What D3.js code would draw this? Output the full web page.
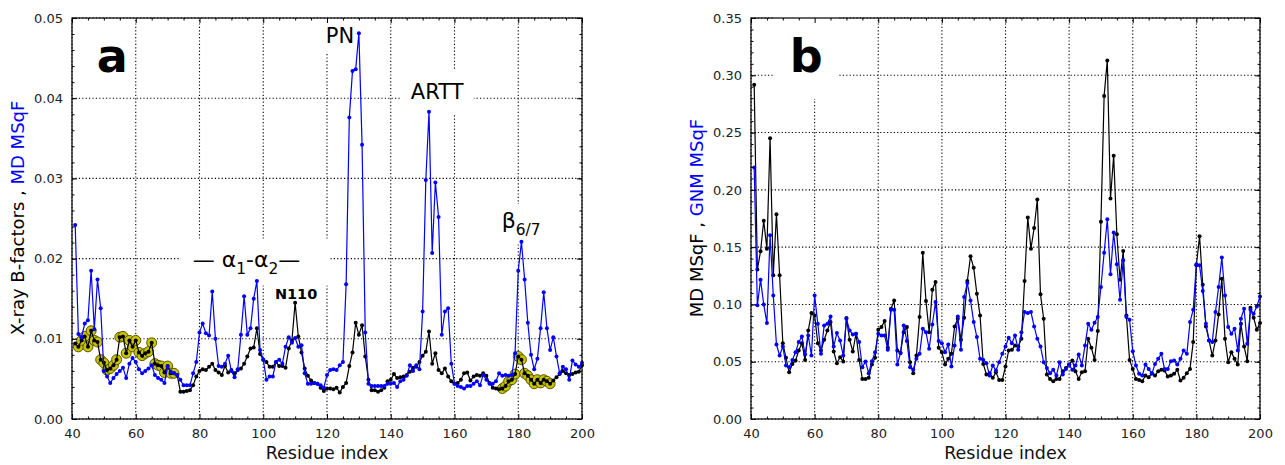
<!DOCTYPE html>
<html>
<head>
<meta charset="utf-8">
<script src="https://d3js.org/d3.v7.min.js"></script>
<style>
  body { margin: 0; background: #fff; }
  text { font-family: "DejaVu Sans", sans-serif; }
</style>
</head>
<body>
<div id="chart"></div>
<script>
// residues 41..200
var firstResidue = 41;

// panel a, black: X-ray B-factors (scaled)
var xrayBfactors = [
  0.0094, 0.0090, 0.0098, 0.0103, 0.0090, 0.0110, 0.0098, 0.0096, 0.0074, 0.0070,
  0.0061, 0.0063, 0.0067, 0.0074, 0.0102, 0.0103, 0.0082, 0.0098, 0.0090, 0.0098,
  0.0083, 0.0079, 0.0082, 0.0084, 0.0095, 0.0069, 0.0067, 0.0066, 0.0058, 0.0066,
  0.0057, 0.0057, 0.0055, 0.0034, 0.0034, 0.0035, 0.0036, 0.0042, 0.0053, 0.0060,
  0.0062, 0.0061, 0.0065, 0.0069, 0.0061, 0.0058, 0.0055, 0.0066, 0.0058, 0.0061,
  0.0057, 0.0061, 0.0063, 0.0069, 0.0078, 0.0088, 0.0089, 0.0113, 0.0081, 0.0074,
  0.0071, 0.0065, 0.0065, 0.0071, 0.0066, 0.0066, 0.0064, 0.0088, 0.0098, 0.0145,
  0.0103, 0.0083, 0.0063, 0.0054, 0.0048, 0.0045, 0.0044, 0.0039, 0.0035, 0.0038,
  0.0038, 0.0037, 0.0039, 0.0033, 0.0040, 0.0045, 0.0066, 0.0083, 0.0120, 0.0105,
  0.0117, 0.0078, 0.0049, 0.0036, 0.0036, 0.0034, 0.0036, 0.0039, 0.0047, 0.0049,
  0.0056, 0.0051, 0.0052, 0.0053, 0.0055, 0.0059, 0.0064, 0.0065, 0.0071, 0.0079,
  0.0084, 0.0109, 0.0069, 0.0082, 0.0061, 0.0057, 0.0063, 0.0053, 0.0047, 0.0044,
  0.0045, 0.0049, 0.0057, 0.0058, 0.0048, 0.0053, 0.0055, 0.0054, 0.0057, 0.0054,
  0.0045, 0.0039, 0.0038, 0.0037, 0.0038, 0.0041, 0.0047, 0.0049, 0.0056, 0.0078,
  0.0074, 0.0057, 0.0054, 0.0049, 0.0044, 0.0049, 0.0045, 0.0049, 0.0047, 0.0044,
  0.0048, 0.0052, 0.0056, 0.0060, 0.0057, 0.0055, 0.0056, 0.0058, 0.0059, 0.0067
];

// panel a, blue: MD MSqF
var mdMsqfA = [
  0.0242, 0.0106, 0.0102, 0.0119, 0.0123, 0.0185, 0.0112, 0.0174, 0.0138, 0.0060,
  0.0053, 0.0045, 0.0051, 0.0056, 0.0060, 0.0064, 0.0051, 0.0069, 0.0076, 0.0071,
  0.0062, 0.0057, 0.0060, 0.0063, 0.0067, 0.0055, 0.0051, 0.0049, 0.0045, 0.0065,
  0.0059, 0.0057, 0.0055, 0.0049, 0.0042, 0.0042, 0.0042, 0.0057, 0.0071, 0.0108,
  0.0119, 0.0107, 0.0104, 0.0159, 0.0100, 0.0066, 0.0065, 0.0069, 0.0079, 0.0060,
  0.0052, 0.0062, 0.0105, 0.0153, 0.0105, 0.0113, 0.0150, 0.0172, 0.0086, 0.0074,
  0.0049, 0.0053, 0.0053, 0.0071, 0.0074, 0.0069, 0.0090, 0.0102, 0.0095, 0.0101,
  0.0090, 0.0092, 0.0057, 0.0044, 0.0044, 0.0045, 0.0044, 0.0042, 0.0039, 0.0055,
  0.0061, 0.0062, 0.0061, 0.0067, 0.0071, 0.0168, 0.0376, 0.0434, 0.0436, 0.0481,
  0.0342, 0.0108, 0.0044, 0.0041, 0.0041, 0.0041, 0.0041, 0.0041, 0.0044, 0.0044,
  0.0045, 0.0040, 0.0047, 0.0049, 0.0054, 0.0067, 0.0060, 0.0067, 0.0062, 0.0134,
  0.0298, 0.0383, 0.0207, 0.0295, 0.0252, 0.0105, 0.0134, 0.0138, 0.0069, 0.0044,
  0.0041, 0.0040, 0.0038, 0.0041, 0.0041, 0.0044, 0.0047, 0.0042, 0.0055, 0.0049,
  0.0044, 0.0044, 0.0047, 0.0057, 0.0054, 0.0055, 0.0054, 0.0055, 0.0082, 0.0185,
  0.0221, 0.0174, 0.0120, 0.0080, 0.0062, 0.0075, 0.0113, 0.0158, 0.0113, 0.0086,
  0.0102, 0.0078, 0.0057, 0.0065, 0.0062, 0.0049, 0.0073, 0.0068, 0.0065, 0.0070
];

// panel b, black: MD MSqF
var mdMsqfB = [
  0.2917, 0.1304, 0.1464, 0.1730, 0.1487, 0.2450, 0.1254, 0.1788, 0.1254, 0.0662,
  0.0534, 0.0408, 0.0481, 0.0510, 0.0598, 0.0662, 0.0516, 0.0773, 0.0925, 0.0904,
  0.0662, 0.0598, 0.0691, 0.0773, 0.0846, 0.0589, 0.0487, 0.0540, 0.0502, 0.0881,
  0.0691, 0.0589, 0.0744, 0.0516, 0.0350, 0.0350, 0.0359, 0.0475, 0.0534, 0.0779,
  0.0802, 0.0855, 0.0621, 0.0962, 0.1035, 0.0598, 0.0575, 0.0758, 0.0802, 0.0496,
  0.0400, 0.0554, 0.0890, 0.1450, 0.1030, 0.0758, 0.1129, 0.1196, 0.0621, 0.0583,
  0.0475, 0.0525, 0.0569, 0.0808, 0.0875, 0.0691, 0.0884, 0.1205, 0.1420, 0.1321,
  0.1094, 0.0904, 0.0481, 0.0388, 0.0400, 0.0359, 0.0408, 0.0341, 0.0341, 0.0458,
  0.0598, 0.0604, 0.0642, 0.0633, 0.0700, 0.1205, 0.1759, 0.1487, 0.1667, 0.1916,
  0.1088, 0.0875, 0.0388, 0.0350, 0.0330, 0.0350, 0.0350, 0.0417, 0.0446, 0.0475,
  0.0510, 0.0417, 0.0350, 0.0408, 0.0417, 0.0700, 0.0621, 0.0516, 0.0767, 0.1721,
  0.2820, 0.3130, 0.1925, 0.2298, 0.1613, 0.1216, 0.1467, 0.0904, 0.0516, 0.0437,
  0.0350, 0.0341, 0.0330, 0.0379, 0.0365, 0.0400, 0.0379, 0.0417, 0.0429, 0.0423,
  0.0370, 0.0379, 0.0394, 0.0429, 0.0335, 0.0359, 0.0400, 0.0437, 0.0671, 0.1342,
  0.1595, 0.1172, 0.0808, 0.0685, 0.0554, 0.0685, 0.0913, 0.1225, 0.0700, 0.0496,
  0.0583, 0.0525, 0.0475, 0.0831, 0.0633, 0.0505, 0.0971, 0.0884, 0.0779, 0.0837
];

// panel b, blue: GNM MSqF
var gnmMsqf = [
  0.2196, 0.0992, 0.1216, 0.1000, 0.0837, 0.1604, 0.1079, 0.0650, 0.0554, 0.0633,
  0.0467, 0.0452, 0.0516, 0.0583, 0.0671, 0.0720, 0.0563, 0.0729, 0.0554, 0.1079,
  0.0831, 0.0569, 0.0817, 0.0831, 0.0895, 0.0633, 0.0750, 0.0685, 0.0554, 0.0875,
  0.0773, 0.0738, 0.0744, 0.0671, 0.0452, 0.0502, 0.0400, 0.0505, 0.0583, 0.0744,
  0.0729, 0.0729, 0.0604, 0.0953, 0.0953, 0.0475, 0.0575, 0.0817, 0.0680, 0.0452,
  0.0429, 0.0525, 0.0569, 0.0787, 0.0758, 0.0613, 0.0825, 0.1021, 0.0680, 0.0662,
  0.0583, 0.0650, 0.0458, 0.0642, 0.0895, 0.0604, 0.1065, 0.1187, 0.1035, 0.0846,
  0.0715, 0.0525, 0.0516, 0.0487, 0.0379, 0.0467, 0.0423, 0.0496, 0.0569, 0.0633,
  0.0709, 0.0662, 0.0729, 0.0604, 0.0758, 0.0933, 0.0925, 0.0933, 0.0808, 0.0700,
  0.0633, 0.0496, 0.0446, 0.0400, 0.0429, 0.0379, 0.0496, 0.0388, 0.0437, 0.0475,
  0.0429, 0.0467, 0.0563, 0.0467, 0.0642, 0.0831, 0.0779, 0.0840, 0.0890, 0.1152,
  0.1450, 0.1744, 0.1263, 0.1627, 0.1350, 0.1041, 0.1385, 0.0890, 0.0866, 0.0592,
  0.0467, 0.0394, 0.0379, 0.0475, 0.0437, 0.0394, 0.0481, 0.0525, 0.0569, 0.0437,
  0.0437, 0.0505, 0.0510, 0.0475, 0.0525, 0.0598, 0.0569, 0.0846, 0.0954, 0.1350,
  0.1342, 0.1117, 0.0831, 0.0685, 0.0671, 0.0933, 0.1152, 0.1409, 0.1079, 0.0802,
  0.0744, 0.0788, 0.0598, 0.0875, 0.0962, 0.0656, 0.0954, 0.0919, 0.0983, 0.1070
];

// residue ranges marked with yellow circles in panel a
var highlightRanges = [[42, 72], [175, 190]];

var xTicks = [40, 60, 80, 100, 120, 140, 160, 180, 200];
var yTicksA = [0, 0.01, 0.02, 0.03, 0.04, 0.05];
var yTicksB = [0, 0.05, 0.10, 0.15, 0.20, 0.25, 0.30, 0.35];

var BLUE = "#0000ff";

var svg = d3.select("#chart").append("svg")
    .attr("width", 1285)
    .attr("height", 465);

function toPoints(values) {
    return values.map(function(v, i) { return { r: firstResidue + i, v: v }; });
}

function inRanges(r, ranges) {
    for (var i = 0; i < ranges.length; i++) {
        if (r >= ranges[i][0] && r <= ranges[i][1]) return true;
    }
    return false;
}

// text made of pieces, some of them subscripts
function richText(layer, x, y, parts, size, weight) {
    var t = layer.append("text")
        .attr("x", x).attr("y", y)
        .attr("font-family", "'Open Sans', sans-serif")
        .attr("font-size", size)
        .attr("font-weight", weight || "normal")
        .attr("fill", "#000");
    var shift = 0;
    parts.forEach(function(p) {
        var want = p.sub ? Math.round(size * 0.32) : 0;
        t.append("tspan")
            .attr("dy", want - shift)
            .attr("font-size", p.sub ? size * 0.7 : size)
            .text(p.t);
        shift = want;
    });
    return t;
}

function drawPanel(p) {
    var x = d3.scaleLinear().domain([40, 200]).range([p.left, p.right]);
    var y = d3.scaleLinear().domain([0, p.ymax]).range([419, 18]);
    var g = svg.append("g");

    // dotted grid
    var grid = g.append("g")
        .attr("stroke", "#000")
        .attr("stroke-width", 1.1)
        .attr("stroke-dasharray", "1.2,2.2");
    grid.selectAll(".vg").data(xTicks).enter().append("line")
        .attr("x1", function(d) { return x(d); })
        .attr("x2", function(d) { return x(d); })
        .attr("y1", y(0)).attr("y2", y(p.ymax));
    grid.selectAll(".hg").data(p.yTicks).enter().append("line")
        .attr("x1", x(40)).attr("x2", x(200))
        .attr("y1", function(d) { return y(d); })
        .attr("y2", function(d) { return y(d); });

    var boxLayer = g.append("g");
    var dataLayer = g.append("g");
    var textLayer = g.append("g");

    var line = d3.line()
        .x(function(d) { return x(d.r); })
        .y(function(d) { return y(d.v); });

    p.series.forEach(function(s) {
        var pts = toPoints(s.values);
        if (s.highlight) {
            dataLayer.selectAll(null)
                .data(pts.filter(function(d) { return inRanges(d.r, s.highlight); }))
                .enter().append("circle")
                .attr("cx", function(d) { return x(d.r); })
                .attr("cy", function(d) { return y(d.v); })
                .attr("r", 5)
                .attr("fill", "#c9c400")
                .attr("stroke", "#5a5600")
                .attr("stroke-width", 1);
        }
        dataLayer.append("path")
            .datum(pts)
            .attr("fill", "none")
            .attr("stroke", s.color)
            .attr("stroke-width", 1.2)
            .attr("d", line);
        dataLayer.selectAll(null).data(pts).enter().append("circle")
            .attr("cx", function(d) { return x(d.r); })
            .attr("cy", function(d) { return y(d.v); })
            .attr("r", 2)
            .attr("fill", s.color);
    });

    // labels with a white box that hides the grid
    p.labels.forEach(function(l) {
        var t = richText(textLayer, x(l.r), y(l.v), l.parts, l.size, l.weight);
        if (l.anchor) t.attr("text-anchor", l.anchor);
        var b = t.node().getBBox();
        var px = l.pad[0], py = l.pad[1];
        boxLayer.append("rect")
            .attr("x", b.x - px).attr("y", b.y - py)
            .attr("width", b.width + 2 * px + (l.extraRight || 0))
            .attr("height", b.height + 2 * py)
            .attr("fill", "#fff");
    });

    // frame and inward ticks
    g.append("rect")
        .attr("x", x(40)).attr("y", y(p.ymax))
        .attr("width", x(200) - x(40)).attr("height", y(0) - y(p.ymax))
        .attr("fill", "none").attr("stroke", "#000").attr("stroke-width", 1.2);

    var fmt = d3.format(".2f");
    var bottom = g.append("g").attr("transform", "translate(0," + y(0) + ")")
        .call(d3.axisBottom(x).tickValues(xTicks).tickSize(-5).tickPadding(10).tickFormat(d3.format("d")));
    var top = g.append("g").attr("transform", "translate(0," + y(p.ymax) + ")")
        .call(d3.axisTop(x).tickValues(xTicks).tickSize(-5).tickFormat(""));
    var left = g.append("g").attr("transform", "translate(" + x(40) + ",0)")
        .call(d3.axisLeft(y).tickValues(p.yTicks).tickSize(-5).tickPadding(9).tickFormat(fmt));
    var right = g.append("g").attr("transform", "translate(" + x(200) + ",0)")
        .call(d3.axisRight(y).tickValues(p.yTicks).tickSize(-5).tickFormat(""));

    // minor ticks
    var xMinor = d3.range(40, 201, 5).filter(function(d) { return d % 20 !== 0; });
    var yMinor = d3.range(0, p.ymax + 1e-9, p.yMinorStep);
    g.append("g").attr("transform", "translate(0," + y(0) + ")")
        .call(d3.axisBottom(x).tickValues(xMinor).tickSize(-2.5).tickFormat(""));
    g.append("g").attr("transform", "translate(0," + y(p.ymax) + ")")
        .call(d3.axisTop(x).tickValues(xMinor).tickSize(-2.5).tickFormat(""));
    g.append("g").attr("transform", "translate(" + x(40) + ",0)")
        .call(d3.axisLeft(y).tickValues(yMinor).tickSize(-2.5).tickFormat(""));
    g.append("g").attr("transform", "translate(" + x(200) + ",0)")
        .call(d3.axisRight(y).tickValues(yMinor).tickSize(-2.5).tickFormat(""));

    g.selectAll(".domain").remove();
    g.selectAll(".tick line").attr("stroke", "#000");
    g.selectAll(".tick text")
        .attr("font-family", "'DejaVu Sans', sans-serif")
        .attr("font-size", 13)
        .attr("fill", "#222");

    // axis titles
    g.append("text")
        .attr("x", (x(40) + x(200)) / 2).attr("y", 459)
        .attr("text-anchor", "middle")
        .attr("font-family", "'Open Sans', sans-serif")
        .attr("font-size", 17.5)
        .attr("fill", "#111")
        .text("Residue index");

    var yl = g.append("text")
        .attr("transform", "translate(" + p.ylabelX + ",218) rotate(-90)")
        .attr("text-anchor", "middle")
        .attr("font-family", "'Open Sans', sans-serif")
        .attr("font-size", 18);
    yl.append("tspan").attr("fill", "#000").text(p.ylabel[0]);
    yl.append("tspan").attr("fill", BLUE).text(p.ylabel[1]);
}

drawPanel({
    left: 72, right: 582, ymax: 0.05,
    yTicks: yTicksA, yMinorStep: 0.002,
    ylabelX: 24,
    ylabel: ["X-ray B-factors , ", "MD MSqF"],
    series: [
        { values: xrayBfactors, color: "#000", highlight: highlightRanges },
        { values: mdMsqfA, color: BLUE }
    ],
    labels: [
        { r: 47.8, v: 0.0433, parts: [{ t: "a" }], size: 46, weight: "bold", pad: [5, 6] },
        { r: 119.6, v: 0.0469, parts: [{ t: "PN" }], size: 21, pad: [4, 4] },
        { r: 146.3, v: 0.0399, parts: [{ t: "ARTT" }], size: 21, pad: [10, 9] },
        { r: 77.9, v: 0.0190, parts: [{ t: "\u2014 \u03b1" }, { t: "1", sub: true }, { t: "-\u03b1" }, { t: "2", sub: true }, { t: "\u2014" }], size: 22, pad: [12, 8], extraRight: 18 },
        { r: 110.3, v: 0.0150, parts: [{ t: "N110" }], size: 14.5, weight: "bold", anchor: "middle", pad: [3, 2] },
        { r: 174.8, v: 0.0238, parts: [{ t: "\u03b2" }, { t: "6/7", sub: true }], size: 22, pad: [6, 4] }
    ]
});

drawPanel({
    left: 751, right: 1260, ymax: 0.35,
    yTicks: yTicksB, yMinorStep: 0.01,
    ylabelX: 703,
    ylabel: ["MD MSqF , ", "GNM  MSqF"],
    series: [
        { values: mdMsqfB, color: "#000" },
        { values: gnmMsqf, color: BLUE }
    ],
    labels: [
        { r: 52.2, v: 0.3029, parts: [{ t: "b" }], size: 46, weight: "bold", pad: [15, 16] }
    ]
});
</script>
</body>
</html>
